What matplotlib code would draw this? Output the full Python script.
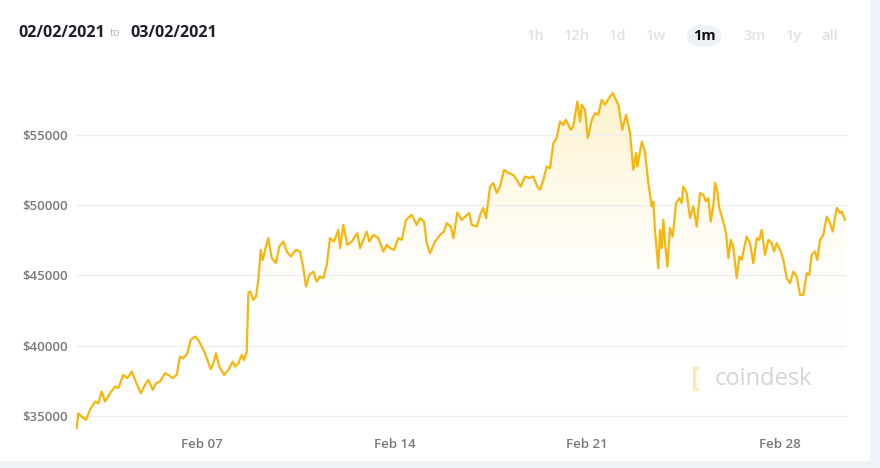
import numpy as np
import matplotlib.pyplot as plt
from matplotlib.colors import LinearSegmentedColormap
from matplotlib.patches import FancyBboxPatch, Rectangle

# ==============================
# DATA  (hours since 2021-02-02 00:00, BTC price in USD)
# ==============================
hours = [10.7, 12.1, 15.1, 18.8, 22.3, 26.7, 29.6, 32.5, 35.4, 39.8,
         44.1, 47.0, 51.4, 54.9, 58.7, 61.6, 66.5, 70.3, 73.2, 77.0,
         79.9, 83.4, 87.7, 90.6, 94.4, 97.9, 100.8, 103.7, 107.2, 110.1,
         113.9, 116.8, 119.7, 122.6, 124.6, 127.6, 129.9, 132.2, 135.1, 139.2,
         142.9, 146.8, 148.8, 151.7, 154.6, 156.6, 159.0, 160.4, 161.9, 164.7,
         167.1, 169.1, 171.2, 172.9, 175.8, 177.8, 180.8, 184.5, 187.4, 190.9,
         193.9, 197.4, 202.0, 205.5, 208.3, 210.7, 213.6, 217.1, 220.0, 222.9,
         225.8, 228.8, 231.6, 235.1, 238.9, 240.4, 243.2, 246.7, 250.6, 255.4,
         257.8, 260.7, 263.6, 265.9, 269.4, 273.8, 278.1, 281.1, 284.0, 287.4,
         291.2, 294.2, 297.9, 302.9, 307.2, 310.1, 313.6, 316.0, 318.8, 323.2,
         327.6, 331.0, 333.4, 336.9, 339.2, 342.6, 346.5, 350.2, 353.1, 355.2,
         359.6, 363.1, 365.3, 367.7, 371.2, 374.0, 377.0, 379.9, 383.4, 387.1,
         391.5, 394.5, 397.9, 401.7, 405.4, 408.9, 412.4, 414.8, 417.7, 420.6,
         423.5, 426.4, 429.3, 432.2, 435.1, 437.4, 441.5, 443.8, 447.3, 449.7,
         451.1, 454.0, 456.4, 459.9, 462.7, 465.6, 468.6, 471.5, 474.9, 478.2,
         480.2, 483.1, 484.5, 486.5, 489.8, 493.3, 496.1, 498.5, 499.6, 503.5,
         506.3, 509.2, 512.2, 513.6, 515.1, 517.9, 519.4, 520.9, 522.3, 523.8,
         525.8, 528.1, 530.5, 533.4, 536.3, 538.3, 539.7, 542.7, 545.6, 548.5,
         551.4, 554.3, 557.2, 559.5, 561.5, 563.6, 565.9, 567.4, 569.4, 571.1,
         574.6, 577.0, 579.0, 581.1, 583.3, 586.3, 588.6, 590.7, 592.1, 595.0,
         597.9, 600.8, 603.8, 606.0, 608.1, 611.0, 613.9, 616.8, 618.8, 621.2,
         624.1, 627.0, 629.9, 632.8, 635.7, 638.6, 641.5, 644.4, 647.4, 649.6,
         651.7, 654.6, 656.6, 659.0, 661.8, 664.8, 667.7, 670.0, 673.5, 676.4,
         677.9, 680.8]

prices = [34130, 35190, 34950, 34720, 35430, 36020, 35900, 36740, 36020, 36620,
          37090, 36980, 37920, 37690, 38160, 37570, 36620, 37210, 37570, 36860,
          37330, 37450, 38040, 37920, 37690, 37920, 39220, 39100, 39460, 40410,
          40650, 40410, 39930, 39460, 38990, 38320, 38750, 39460, 38510, 37920,
          38270, 38870, 38510, 38750, 39340, 38990, 39580, 43740, 43860, 43260,
          43500, 44680, 46820, 46100, 47050, 47650, 46230, 45880, 47050, 47410,
          46700, 46350, 46820, 46700, 45520, 44210, 45040, 45270, 44560, 44920,
          44800, 45750, 47650, 47410, 48240, 46940, 48590, 47170, 47410, 48010,
          46940, 47530, 48120, 47410, 47880, 47650, 46700, 47170, 46940, 46820,
          47650, 47530, 48950, 49310, 48590, 49080, 48830, 47290, 46580, 47410,
          47880, 48120, 48720, 48480, 47650, 49470, 48950, 49240, 49440, 48590,
          48480, 49440, 49790, 49080, 51320, 51570, 50860, 51320, 52510, 52280,
          52150, 51800, 51320, 52040, 51920, 52040, 51320, 51090, 51800, 52750,
          52630, 54410, 54770, 55950, 55710, 56070, 55360, 55590, 57370, 55950,
          57140, 56780, 54770, 56070, 56540, 56430, 57490, 57140, 57610, 57970,
          57610, 57140, 56430, 55360, 56430, 55120, 52510, 53700, 52750, 54520,
          53810, 51570, 49900, 50250, 48120, 45510, 48240, 46940, 48950, 47290,
          45630, 48360, 47760, 50140, 50500, 50140, 51320, 50860, 49080, 49910,
          48480, 50860, 50730, 50250, 50500, 48830, 49910, 51570, 50980, 49790,
          48830, 48010, 46230, 47530, 47050, 44800, 46350, 46100, 46700, 47760,
          47290, 45870, 47650, 47530, 48240, 46460, 47530, 47290, 46700, 47290,
          46820, 46100, 44800, 44450, 45270, 44920, 43610, 43610, 45160, 45040,
          46460, 46700, 46100, 47530, 47880, 49190, 48720, 48120, 49790, 49440,
          49550, 48950]

y_ticks = [35000, 40000, 45000, 50000, 55000]
x_tick_days = [5, 12, 19, 26]          # Feb 07, 14, 21, 28 (days after Feb 02)
x_tick_labels = ["Feb 07", "Feb 14", "Feb 21", "Feb 28"]
ranges = ["1h", "12h", "1d", "1w", "1m", "3m", "1y", "all"]

LINE = "#f6b60f"
GRID = "#eeeeee"
TICK = "#7a7a7a"

# ==============================
# FIGURE
# ==============================
plt.rcParams['font.family'] = ['Open Sans', 'DejaVu Sans']
fig = plt.figure(figsize=(8.8, 4.68), dpi=100)
fig.patch.set_facecolor("white")

# page background bands (right side + bottom)
fig.patches.append(Rectangle((870 / 880, 0), 10 / 880, 1, transform=fig.transFigure,
                             facecolor="#eef3fb", edgecolor="none", zorder=0))
fig.patches.append(Rectangle((0, 0), 1, 7 / 468, transform=fig.transFigure,
                             facecolor="#eef3f8", edgecolor="none", zorder=0))

ax = fig.add_axes([76 / 880, 1 - 430 / 468, 771 / 880, 350 / 468])
ax.set_facecolor("none")

x = np.array(hours)
y = np.array(prices)
ymin, ymax = 34000, 58900
ax.set_xlim(10.1, 682.5)
ax.set_ylim(ymin, ymax)

# gradient fill under the line
cmap = LinearSegmentedColormap.from_list("fade", [(1, 1, 1, 0), (0.99, 0.87, 0.45, 0.42)])
grad = np.clip((np.linspace(ymin, ymax, 256) - 39000) / (ymax - 39000), 0, 1)[:, None]
img = ax.imshow(grad, cmap=cmap, aspect="auto", origin="lower",
                extent=[x[0], x[-1], ymin, ymax], vmin=0, vmax=1, zorder=1)
poly = ax.fill_between(x, y, ymin, facecolor="none", edgecolor="none")
img.set_clip_path(poly.get_paths()[0], transform=ax.transData)

ax.plot(x, y, color=LINE, lw=1.6, zorder=3, solid_joinstyle="round")

ax.set_yticks(y_ticks)
ax.set_yticklabels([f"${v}" for v in y_ticks])
ax.set_xticks([d * 24 for d in x_tick_days])
ax.set_xticklabels(x_tick_labels)
ax.grid(axis="y", color=GRID, lw=1.0, zorder=0)
ax.tick_params(length=0, colors=TICK, labelsize=9.5)
ax.tick_params(axis="y", pad=6)
ax.tick_params(axis="x", pad=6)
for lbl in ax.get_xticklabels() + ax.get_yticklabels():
    lbl.set_fontweight("semibold")
for s in ax.spines.values():
    s.set_visible(False)

# coindesk watermark
ax.text(0.828, 0.147, "coindesk", transform=ax.transAxes, color="#d3d5d8",
        fontsize=17, ha="left", va="center", zorder=2)
ax.text(0.796, 0.147, "[", transform=ax.transAxes, color="#f8ecb8",
        fontsize=19, ha="left", va="center", fontweight="bold", zorder=2)

# ==============================
# HEADER
# ==============================
fig.text(18 / 880, 1 - 33 / 468, "02/02/2021", fontsize=11.5, fontweight="bold",
         color="#1b1f2a", va="center")
fig.text(110 / 880, 1 - 34 / 468, "to", fontsize=8, color="#b5b5b5", va="center")
fig.text(130 / 880, 1 - 33 / 468, "03/02/2021", fontsize=11.5, fontweight="bold",
         color="#1b1f2a", va="center")

btn_x = [536, 577, 618, 656, 704, 755, 794, 830]
for lab, bx in zip(ranges, btn_x):
    if lab == "1m":
        fig.patches.append(FancyBboxPatch(((bx - 17) / 880, 1 - 47 / 468), 34 / 880, 22 / 468,
                                          boxstyle="round,pad=0,rounding_size=0.02",
                                          transform=fig.transFigure, facecolor="#eef2f8",
                                          edgecolor="none"))
        fig.text(bx / 880, 1 - 36 / 468, lab, fontsize=10.5, fontweight="bold",
                 color="#111111", ha="center", va="center")
    else:
        fig.text(bx / 880, 1 - 36 / 468, lab, fontsize=10.5, fontweight="semibold",
                 color="#dfe1e5", ha="center", va="center")

fig.savefig("out.png", dpi=100)
